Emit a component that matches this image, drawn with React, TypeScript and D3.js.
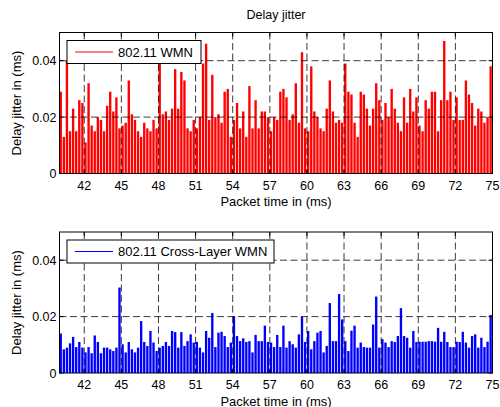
import React from "react";
import * as d3 from "d3";

// packet jitter samples (ms), one every 0.25 ms from 40.1 ms
const wmnJitter = [
  0.029, 0.013, 0.04, 0.015, 0.023, 0.015, 0.026, 0.025, 0.011, 0.032, 0.017, 0.015,
  0.02, 0.019, 0.015, 0.024, 0.029, 0.022, 0.027, 0.016, 0.017, 0.018, 0.033, 0.021,
  0.019, 0.015, 0.013, 0.018, 0.016, 0.015, 0.019, 0.016, 0.041, 0.021, 0.022, 0.019,
  0.023, 0.037, 0.023, 0.036, 0.033, 0.016, 0.015, 0.019, 0.016, 0.02, 0.039, 0.046,
  0.019, 0.035, 0.02, 0.021, 0.018, 0.029, 0.03, 0.013, 0.019, 0.025, 0.016, 0.022,
  0.013, 0.031, 0.016, 0.026, 0.016, 0.022, 0.022, 0.02, 0.015, 0.02, 0.019, 0.029,
  0.03, 0.027, 0.019, 0.021, 0.032, 0.018, 0.043, 0.016, 0.015, 0.038, 0.022, 0.02,
  0.016, 0.015, 0.023, 0.033, 0.022, 0.018, 0.019, 0.018, 0.039, 0.029,
  0.028, 0.018, 0.013, 0.029, 0.028, 0.023, 0.017, 0.023, 0.032, 0.026, 0.019, 0.025,
  0.02, 0.03, 0.023, 0.018, 0.015, 0.027, 0.018, 0.03, 0.022, 0.027, 0.017, 0.015,
  0.026, 0.023, 0.029, 0.029, 0.015, 0.026, 0.047, 0.026, 0.029, 0.019, 0.027, 0.019,
  0.019, 0.033, 0.028, 0.025, 0.017, 0.023, 0.022, 0.018, 0.02, 0.038,
];

const crossLayerJitter = [
  0.014, 0.0084, 0.009, 0.0105, 0.0128, 0.0092, 0.011, 0.009, 0.0073, 0.0092, 0.007, 0.0133,
  0.011, 0.007, 0.009, 0.009, 0.0084, 0.0078, 0.009, 0.0303, 0.0102, 0.0073, 0.011, 0.0084,
  0.0073, 0.009, 0.0184, 0.011, 0.0096, 0.0149, 0.0108, 0.0078, 0.009, 0.0096, 0.011, 0.0096,
  0.0149, 0.0145, 0.009, 0.0145, 0.0096, 0.0113, 0.0137, 0.0108, 0.011, 0.009, 0.0073, 0.0149,
  0.0125, 0.0213, 0.0092, 0.0143, 0.0146, 0.0131, 0.0092, 0.0108, 0.0201, 0.0131, 0.0113, 0.0123,
  0.011, 0.0113, 0.0073, 0.0135, 0.0113, 0.0113, 0.0168, 0.011, 0.0108, 0.0092, 0.0135, 0.0092,
  0.0168, 0.009, 0.0113, 0.0102, 0.009, 0.0137, 0.02, 0.011, 0.0149, 0.0084, 0.0113, 0.0143,
  0.0149, 0.0073, 0.0096, 0.0248, 0.0113, 0.0113, 0.028, 0.019, 0.0113, 0.0078,
  0.015, 0.0168, 0.009, 0.0108, 0.0092, 0.009, 0.009, 0.0172, 0.0271, 0.009, 0.012, 0.0108,
  0.0092, 0.0113, 0.011, 0.0131, 0.023, 0.0131, 0.0125, 0.009, 0.0149, 0.011, 0.0111, 0.0111,
  0.0111, 0.0113, 0.0113, 0.0111, 0.016, 0.0111, 0.0146, 0.011, 0.0092, 0.0092, 0.0111, 0.011,
  0.0146, 0.0108, 0.009, 0.0131, 0.0137, 0.009, 0.0125, 0.0092, 0.0111, 0.0206,
];

const packetTimes = d3.range(wmnJitter.length).map((i) => 40.1 + i * 0.25);
const xTicks = [42, 45, 48, 51, 54, 57, 60, 63, 66, 69, 72, 75];
const yTicks = [0, 0.02, 0.04];

const font = "'Liberation Sans', Arial, sans-serif";
const left = 59.5;
const right = 492.5;

const x = d3.scaleLinear().domain([40, 75]).range([left, right]);

function Panel({ values, color, label, top, bottom, legendW }) {
  const y = d3.scaleLinear().domain([0, 0.05]).range([bottom, top]);
  const barW = x(0.19) - x(0);
  return (
    <g>
      {values.map((v, i) => (
        <rect
          key={i}
          x={x(packetTimes[i]) - barW / 2}
          y={y(v)}
          width={barW}
          height={y(0) - y(v)}
          fill={color}
        />
      ))}
      {/* grid on top, as in the figure */}
      <g stroke="#000" strokeWidth={0.9} strokeDasharray="7,3.5" opacity={0.85}>
        {xTicks.slice(0, -1).map((t) => (
          <line key={t} x1={x(t)} x2={x(t)} y1={top} y2={bottom} />
        ))}
        {yTicks.slice(1).map((t) => (
          <line key={t} x1={left} x2={right} y1={y(t)} y2={y(t)} />
        ))}
      </g>
      <g stroke="#000" strokeWidth={1}>
        {xTicks.map((t) => (
          <g key={t}>
            <line x1={x(t)} x2={x(t)} y1={bottom} y2={bottom - 4} />
            <line x1={x(t)} x2={x(t)} y1={top} y2={top + 4} />
          </g>
        ))}
        {yTicks.map((t) => (
          <g key={t}>
            <line x1={left} x2={left + 4} y1={y(t)} y2={y(t)} />
            <line x1={right} x2={right - 4} y1={y(t)} y2={y(t)} />
          </g>
        ))}
      </g>
      <rect x={left} y={top} width={right - left} height={bottom - top} fill="none" stroke="#000" strokeWidth={1} />
      <g fontFamily={font} fill="#000">
        {xTicks.map((t) => (
          <text key={t} x={x(t)} y={bottom + 16} textAnchor="middle" fontSize={12.5}>
            {t}
          </text>
        ))}
        {yTicks.map((t) => (
          <text key={t} x={left - 3} y={y(t) + 4.5} textAnchor="end" fontSize={12.5}>
            {t === 0 ? "0" : t.toFixed(2)}
          </text>
        ))}
        <text x={(left + right) / 2} y={bottom + 32.5} textAnchor="middle" fontSize={13}>
          Packet time in (ms)
        </text>
        <text
          transform={`translate(21.3,${(top + bottom) / 2}) rotate(-90)`}
          textAnchor="middle"
          fontSize={13}
        >
          Delay jitter in (ms)
        </text>
      </g>
      <g>
        <rect x={67} y={top + 8} width={legendW} height={23} fill="#fff" stroke="#000" strokeWidth={1} />
        <line x1={75} x2={113} y1={top + 19.5} y2={top + 19.5} stroke={color} strokeWidth={1} />
        <text x={118} y={top + 24} fontFamily={font} fontSize={13}>
          {label}
        </text>
      </g>
    </g>
  );
}

export default function App() {
  return (
    <svg
      width={500}
      height={407}
      style={{ position: "absolute", left: 0, top: 0, background: "#fff" }}
    >
      <text x={276} y={18.5} textAnchor="middle" fontFamily={font} fontSize={12.5}>
        Delay jitter
      </text>
      <Panel values={wmnJitter} color="#ff0000" label="802.11 WMN" top={32.5} bottom={173.5} legendW={134} />
      <Panel
        values={crossLayerJitter}
        color="#0000ff"
        label="802.11 Cross-Layer WMN"
        top={232}
        bottom={373}
        legendW={207}
      />
    </svg>
  );
}
